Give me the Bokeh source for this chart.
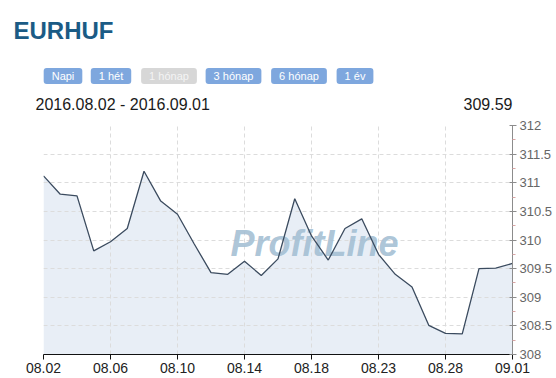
from bokeh.plotting import figure
from bokeh.layouts import column
from bokeh.models import (ColumnDataSource, Range1d, FixedTicker, Label,
                          CustomJSTickFormatter)
from bokeh.embed import file_html
from bokeh.resources import INLINE

# EUR/HUF daily fixing, 2016.08.02 - 2016.09.01
symbol = "EURHUF"
period_text = "2016.08.02 - 2016.09.01"
last_rate = 309.59
periods = ["Napi", "1 hét", "1 hónap", "3 hónap", "6 hónap", "1 év"]
active_period = "1 hónap"

dates = ["08.02", "08.03", "08.04", "08.05", "08.06", "08.07", "08.08",
         "08.09", "08.10", "08.11", "08.12", "08.13", "08.14", "08.15",
         "08.16", "08.17", "08.18", "08.19", "08.21", "08.22", "08.23",
         "08.24", "08.25", "08.26", "08.28", "08.29", "08.30", "08.31",
         "09.01"]
rates = [311.12, 310.80, 310.77, 309.81, 309.97, 310.20, 311.20,
         310.68, 310.45, 309.93, 309.43, 309.40, 309.63, 309.38,
         309.67, 310.72, 310.07, 309.65, 310.20, 310.37, 309.75,
         309.40, 309.18, 308.51, 308.37, 308.36, 309.50, 309.51,
         309.59]
y_ticks = [308, 308.5, 309, 309.5, 310, 310.5, 311, 311.5, 312]
label_every = 4

idx = list(range(len(dates)))
src = ColumnDataSource(dict(i=idx, rate=rates, date=dates))

FONT = "Liberation Sans"
W = 556
HEAD_H = 115
CHART_H = 378 - HEAD_H

# ---------------- header strip ----------------
head = figure(width=W, height=HEAD_H, output_backend="svg", toolbar_location=None,
              x_range=Range1d(0, W), y_range=Range1d(0, HEAD_H),
              x_axis_location=None, y_axis_location=None, min_border=0)
head.frame_align = False
head.outline_line_color = None
head.xgrid.visible = False
head.ygrid.visible = False


def at(cx, cy):
    """page position (from the top-left corner) -> screen units of the header frame"""
    return dict(x=cx, y=HEAD_H - cy, x_units="screen", y_units="screen")


head.add_layout(Label(**at(13, 29.5), text=symbol, text_font=FONT,
                      text_font_style="bold", text_font_size="24px",
                      text_color="#1b5b85", text_baseline="middle"))

button_centers = [62.5, 110.5, 168.5, 233, 298.5, 354.5]
for name, cx in zip(periods, button_centers):
    active = name == active_period
    head.add_layout(Label(**at(cx, 75.5), text=name, text_font=FONT,
                          text_font_size="11px",
                          text_color="#f4f4f4" if active else "white",
                          text_align="center", text_baseline="middle",
                          background_fill_color="#d7d7d7" if active else "#7ea7de",
                          padding=dict(left=8, right=8, top=2, bottom=2),
                          border_radius=3))

head.add_layout(Label(**at(35, 103.5), text=period_text, text_font=FONT,
                      text_font_size="16px", text_color="#1a1a1a",
                      text_baseline="middle"))
head.add_layout(Label(**at(512, 103.5), text=f"{last_rate:.2f}", text_font=FONT,
                      text_font_size="16px", text_color="#1a1a1a",
                      text_align="right", text_baseline="middle"))

# ---------------- price chart ----------------
p = figure(width=W, height=CHART_H, output_backend="svg", toolbar_location=None,
           x_range=Range1d(idx[0], idx[-1]), y_range=Range1d(y_ticks[0], y_ticks[-1]),
           y_axis_location="right",
           min_border_left=43, min_border_right=44, min_border_top=10,
           min_border_bottom=24)
p.frame_align = False
p.outline_line_color = None

p.xgrid.grid_line_color = "#dcdcdc"
p.ygrid.grid_line_color = "#dcdcdc"
p.xgrid.grid_line_dash = "4 3"
p.ygrid.grid_line_dash = "4 3"

# bottom axis: a date every fourth session
tick_idx = idx[::label_every]
p.xaxis.ticker = FixedTicker(ticks=tick_idx)
p.xaxis.major_label_overrides = {i: dates[i] for i in tick_idx}
p.xaxis.axis_line_color = "#111111"
p.xaxis.major_tick_line_color = "#111111"
p.xaxis.major_tick_in = 0
p.xaxis.major_tick_out = 5
p.xaxis.minor_tick_line_color = None
p.xaxis.major_label_text_font = FONT
p.xaxis.major_label_text_font_size = "14px"
p.xaxis.major_label_text_color = "#222222"
p.xaxis.major_label_standoff = 3

# right axis
minor = [t + 0.25 for t in y_ticks[:-1]]
p.yaxis.ticker = FixedTicker(ticks=y_ticks, minor_ticks=minor)
p.yaxis.formatter = CustomJSTickFormatter(code="return tick.toString()")
p.yaxis.axis_line_color = "#8c8c8c"
p.yaxis.major_tick_line_color = "#8c8c8c"
p.yaxis.major_tick_in = 3
p.yaxis.major_tick_out = 4
p.yaxis.minor_tick_line_color = "#d9a5a5"
p.yaxis.minor_tick_in = 0
p.yaxis.minor_tick_out = 3
p.yaxis.major_label_text_font = FONT
p.yaxis.major_label_text_font_size = "13px"
p.yaxis.major_label_text_color = "#666666"
p.yaxis.major_label_standoff = 3

# price series: shaded area + line
p.varea(x="i", y1=y_ticks[0], y2="rate", source=src,
        fill_color="#e8eef6", level="image")
p.line(x="i", y="rate", source=src, line_color="#3b4b5f", line_width=1.3)

# watermark
p.add_layout(Label(x=271, y=111, x_units="screen", y_units="screen",
                   text="ProfitLine", text_font=FONT, text_font_style="bold italic",
                   text_font_size="36px", text_color="#a3bed3", text_alpha=0.9,
                   text_align="center", text_baseline="alphabetic",
                   level="underlay"))

layout = column(head, p, spacing=0)
open("out.html", "w").write(file_html(layout, INLINE))
